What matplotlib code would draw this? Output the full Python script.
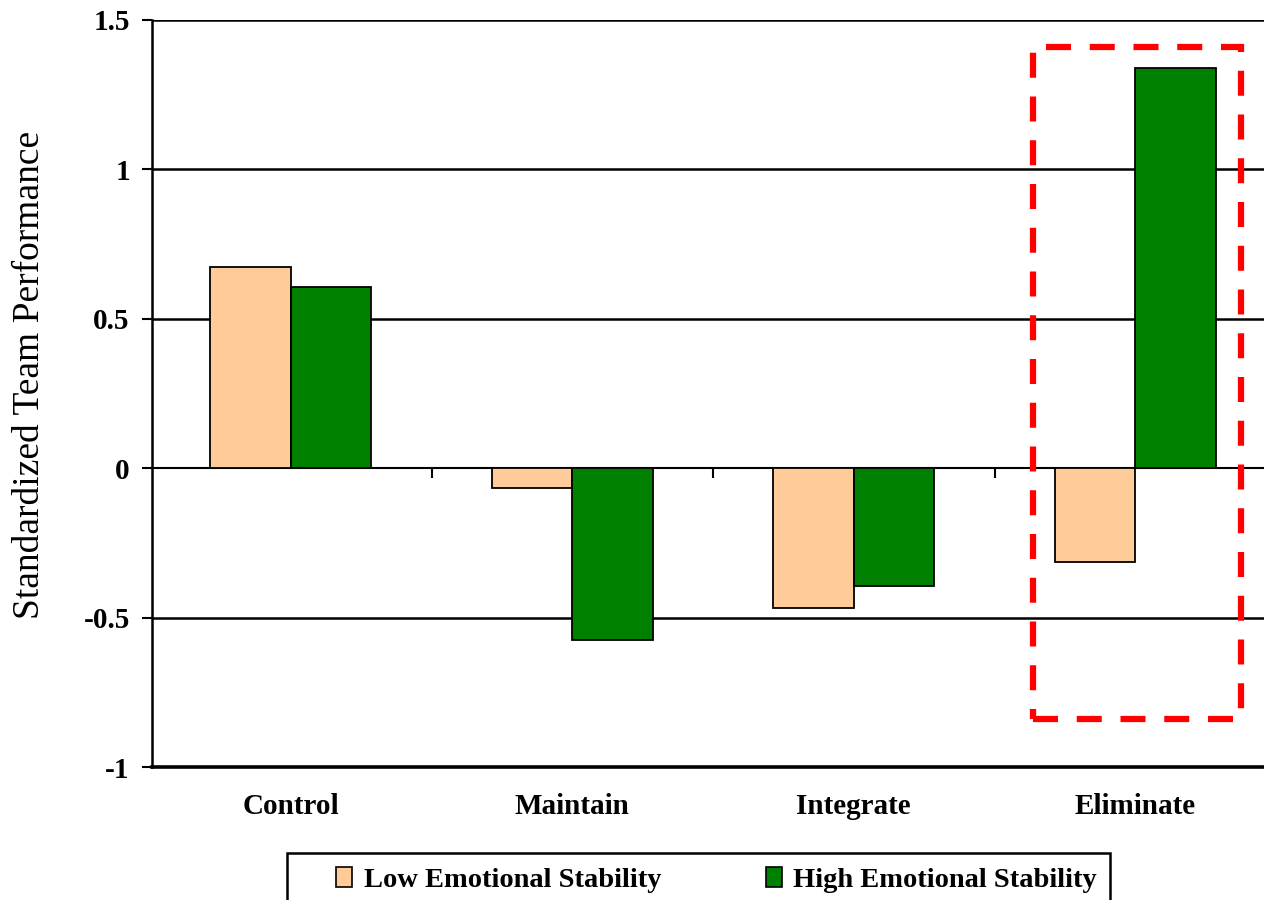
import matplotlib
matplotlib.use("Agg")
import matplotlib.pyplot as plt
import numpy as np
from matplotlib.patches import Rectangle, Patch

categories = ["Control", "Maintain", "Integrate", "Eliminate"]
low_es = [0.672, -0.067, -0.468, -0.314]
high_es = [0.605, -0.575, -0.395, 1.341]
series_names = ["Low Emotional Stability", "High Emotional Stability"]
yticks = [-1, -0.5, 0, 0.5, 1, 1.5]
ytick_labels = ["-1", "-0.5", "0", "0.5", "1", "1.5"]
highlight_box = (2.638, -0.839, 3.376, 1.41)  # x0, y0, x1, y1 in data units

plt.rcParams['font.family'] = ['Liberation Serif', 'DejaVu Serif']

W, H = 1264, 900
fig = plt.figure(figsize=(W / 100, H / 100), dpi=100)
ax = fig.add_axes([152 / W, 1 - 767 / H, (W - 152) / W, (767 - 20) / H])

x = np.arange(len(categories))
bw = 1 / 3.5
ax.bar(x - bw / 2, low_es, bw, color="#FFCC99", edgecolor="black", linewidth=1.3, zorder=3)
ax.bar(x + bw / 2, high_es, bw, color="#008000", edgecolor="black", linewidth=1.3, zorder=3)

spacing = 281.5
ax.set_xlim(-0.493, -0.493 + (W - 152) / spacing)
ax.set_ylim(-1, 1.5)

# gridlines
for yv in [-0.5, 0.5, 1, 1.5]:
    ax.axhline(yv, color="black", linewidth=1.8, zorder=1)

ax.set_yticks(yticks)
ax.set_yticklabels(ytick_labels, fontsize=21, fontweight="bold")
ax.tick_params(axis="y", direction="out", length=7, width=1.5, pad=9)

ax.set_xticks(x)
ax.set_xticklabels(categories, fontsize=21, fontweight="bold")
ax.tick_params(axis="x", length=0, pad=19)

for s in ["top", "right"]:
    ax.spines[s].set_visible(False)
ax.spines["left"].set_linewidth(1.8)
ax.spines["bottom"].set_linewidth(2.6)

# category axis at zero with boundary ticks
sec = ax.secondary_xaxis(1 / 2.5)
sec.set_xticks([0.5, 1.5, 2.5])
sec.set_xticklabels([])
sec.tick_params(direction="out", length=7, width=1.5)
sec.spines["bottom"].set_linewidth(1.5)

ax.set_ylabel("Standardized Team Performance", fontsize=27)
ax.yaxis.set_label_coords((47 - 152) / (W - 152), (767 - 375) / 747)

# red dashed highlight box
x0, y0, x1, y1 = highlight_box
ax.add_patch(Rectangle((x0, y0), x1 - x0, y1 - y0, fill=False, edgecolor="#FF0000",
                       linewidth=4.5, linestyle=(0, (4, 3)), zorder=5, clip_on=False))

# legend
fig.patches.append(Rectangle((287 / W, 1 - 905 / H), (1110 - 287) / W, (905 - 853) / H,
                             transform=fig.transFigure, fill=False, edgecolor="black",
                             linewidth=1.8))
handles = [Patch(facecolor="#FFCC99", edgecolor="black", linewidth=1.2),
           Patch(facecolor="#008000", edgecolor="black", linewidth=1.2)]
fig.legend(handles, series_names, loc="center", bbox_to_anchor=(716.5 / W, 1 - 880 / H),
           ncol=2, frameon=False, prop={"size": 20.5, "weight": "bold"},
           handlelength=0.57, handleheight=0.7, handletextpad=0.4, columnspacing=3.68,
           borderpad=0, borderaxespad=0)

fig.savefig("out.png", dpi=100)
